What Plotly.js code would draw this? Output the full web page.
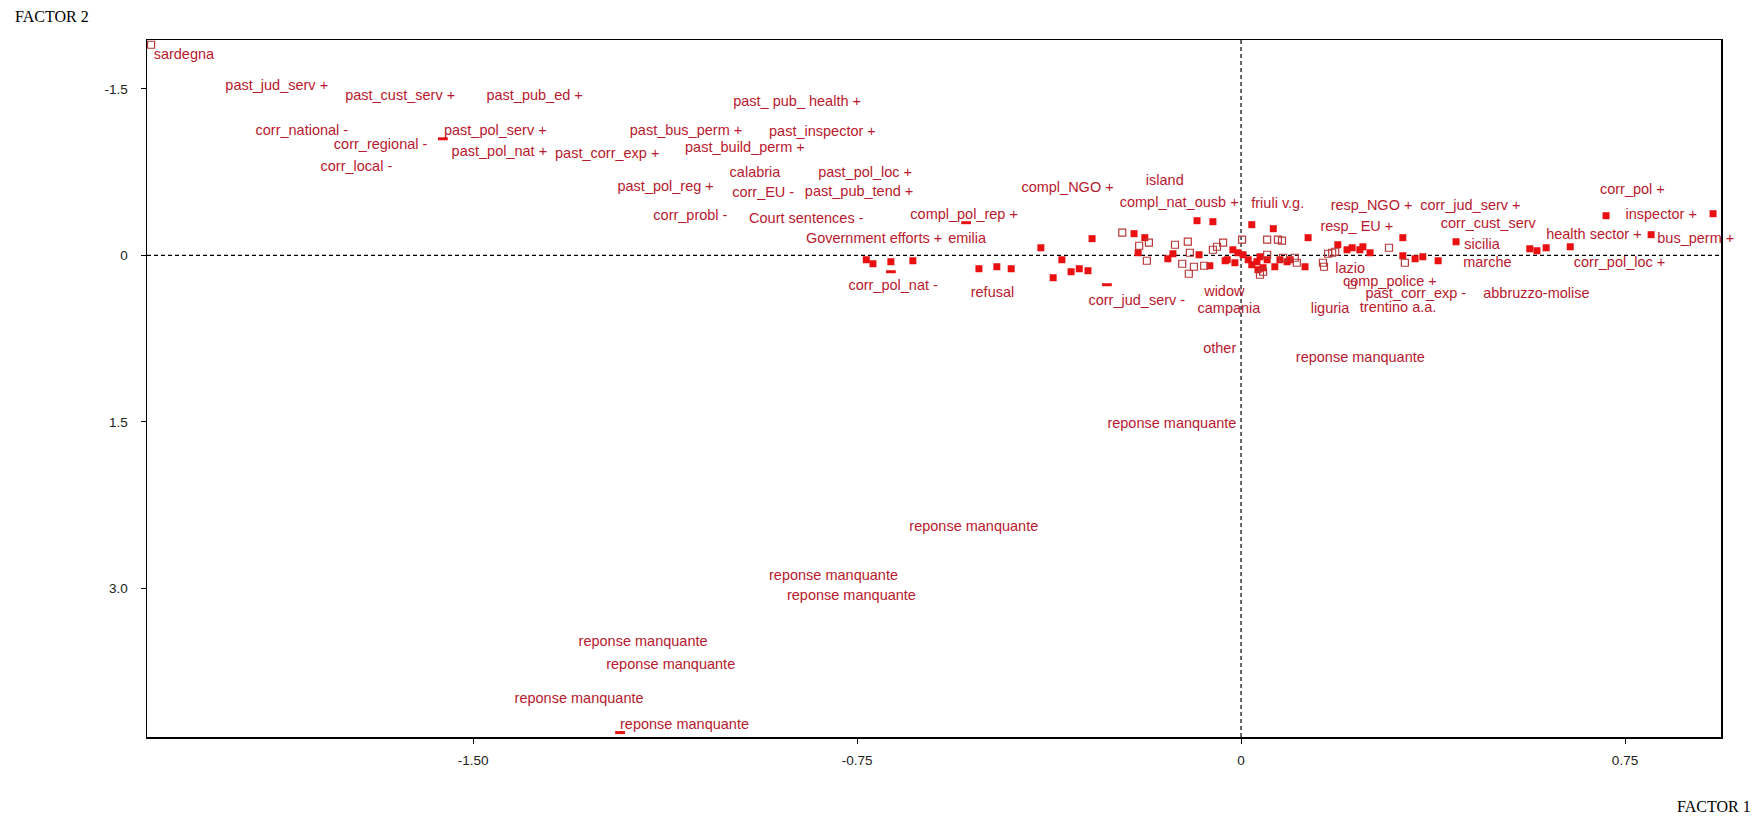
<!DOCTYPE html>
<html>
<head>
<meta charset="utf-8">
<script src="https://cdn.plot.ly/plotly-3.0.1.min.js"></script>
<style>
  html, body { margin: 0; padding: 0; background: #ffffff; }
  #chart { width: 1758px; height: 818px; }
</style>
</head>
<body>
<div id="chart"></div>
<script>
// ---- Label points (factor 1, factor 2) ----
const labelText = [
  "sardegna", "past_jud_serv +", "past_cust_serv +", "past_pub_ed +", "past_ pub_ health +",
  "corr_national -", "past_pol_serv +", "past_bus_perm +", "past_inspector +", "corr_regional -",
  "past_pol_nat +", "past_corr_exp +", "past_build_perm +", "corr_local -", "calabria",
  "past_pol_loc +", "past_pol_reg +", "corr_EU -", "past_pub_tend +", "compl_NGO +",
  "island", "compl_nat_ousb +", "friuli v.g.", "resp_NGO +", "corr_jud_serv +",
  "corr_pol +", "inspector +", "corr_probl -", "Court sentences -", "compl_pol_rep +",
  "corr_cust_serv", "resp_ EU +", "health sector +", "bus_perm +", "Government efforts +",
  "emilia", "sicilia", "marche", "corr_pol_loc +", "corr_pol_nat -",
  "refusal", "corr_jud_serv -", "widow", "campania", "lazio",
  "comp_police +", "past_corr_exp -", "abbruzzo-molise", "liguria", "trentino a.a.",
  "other", "reponse manquante", "reponse manquante", "reponse manquante", "reponse manquante",
  "reponse manquante", "reponse manquante", "reponse manquante", "reponse manquante", "reponse manquante"
];
const labelX = [
  -2.124, -1.984, -1.750, -1.474, -0.992,
  -1.925, -1.557, -1.194, -0.922, -1.772,
  -1.542, -1.340, -1.086, -1.798, -0.999,
  -0.826, -1.218, -0.994, -0.852, -0.429,
  -0.186, -0.237, 0.020, 0.175, 0.350,
  0.701, 0.751, -1.148, -0.961, -0.646,
  0.390, 0.155, 0.596, 0.813, -0.850,
  -0.572, 0.436, 0.434, 0.650, -0.767,
  -0.528, -0.298, -0.072, -0.085, 0.184,
  0.199, 0.243, 0.473, 0.136, 0.232,
  -0.074, 0.107, -0.261, -0.648, -0.922,
  -0.887, -1.294, -1.240, -1.419, -1.213
];
const labelY = [
  -1.798, -1.525, -1.435, -1.435, -1.374,
  -1.121, -1.121, -1.121, -1.111, -0.990,
  -0.929, -0.909, -0.960, -0.788, -0.738,
  -0.738, -0.616, -0.556, -0.566, -0.606,
  -0.667, -0.465, -0.455, -0.445, -0.445,
  -0.586, -0.364, -0.354, -0.323, -0.364,
  -0.283, -0.253, -0.182, -0.142, -0.142,
  -0.142, -0.091, 0.071, 0.071, 0.283,
  0.343, 0.414, 0.333, 0.485, 0.125,
  0.240, 0.353, 0.353, 0.485, 0.475,
  0.848, 0.929, 1.525, 2.454, 2.889,
  3.071, 3.485, 3.697, 4.000, 4.232
];

// ---- Unlabelled filled points ----
const filledX = [
  -0.732, -0.719, -0.684, -0.641, -0.512, -0.477, -0.449, -0.391, -0.350, -0.367,
  -0.332, -0.316, -0.299, -0.291, -0.209, -0.188, -0.201, -0.133, -0.143, -0.086,
  -0.055, -0.082, -0.061, 0.021, 0.063, 0.131, -0.031,
  -0.027, -0.016, -0.006, -0.012, 0.004, 0.014, 0.021, 0.031, 0.037, 0.043,
  0.033, 0.051, 0.066, 0.076, 0.090, 0.096, 0.125,
  0.189, 0.207, 0.217, 0.232, 0.238, 0.252, 0.316, 0.316, 0.340, 0.355,
  0.385, 0.420, 0.564, 0.578, 0.596, 0.643, 0.713, 0.801, 0.922
];
const filledY = [
  0.040, 0.076, 0.058, 0.049, 0.121, 0.103, 0.121, -0.068, 0.040, 0.202,
  0.148, 0.121, 0.139, -0.150, -0.195, -0.159, -0.023, -0.014, 0.031, -0.312,
  -0.303, -0.005, 0.094, -0.276, -0.240, -0.159, 0.049,
  0.040, -0.050, -0.023, 0.067, -0.005, 0.040, 0.085, 0.058, 0.013, 0.112,
  0.130, 0.040, 0.103, 0.040, 0.058, 0.040, 0.103,
  -0.095, -0.050, -0.068, -0.050, -0.077, -0.023, -0.159, 0.004, 0.031, 0.013,
  0.049, -0.122, -0.059, -0.041, -0.068, -0.077, -0.357, -0.186, -0.375
];

// ---- Unlabelled hollow points ----
const hollowX = [
  -0.232, -0.199, -0.180, -0.184, -0.129, -0.104, -0.100, -0.115, -0.092, -0.102,
  -0.072, -0.047, -0.035, 0.002, 0.051, 0.072, 0.080, 0.051, 0.037, 0.043,
  0.082, 0.105, 0.109, 0.160, 0.170, 0.162, 0.178, 0.184, 0.217, 0.289,
  0.320, -0.055, -2.129
];
const hollowY = [
  -0.204, -0.086, -0.114, 0.049, -0.095, -0.123, -0.023, 0.076, 0.103, 0.166,
  0.094, -0.077, -0.114, -0.141, -0.141, -0.141, -0.132, -0.005, 0.175, 0.148,
  0.022, 0.022, 0.067, 0.067, -0.014, 0.103, -0.023, -0.032, 0.265, -0.068,
  0.067, -0.050, -1.897
];

// ---- Small flat marks ----
const dashX = [-1.559, -0.684, -0.537, -0.262, -1.213];
const dashY = [-1.050, 0.148, -0.294, 0.265, 4.300];

// ---- Axis ticks ----
const xTickVals = [-1.5, -0.75, 0, 0.75];
const xTickText = ["-1.50", "-0.75", "0", "0.75"];
const yTickVals = [-1.5, 0, 1.5, 3.0];
const yTickText = ["-1.5", "0", "1.5", "3.0"];

const labelColor = "#b8192e";
const fillColor = "#e81010";
const hollowColor = "#b83a3a";

const traces = [
  {
    x: filledX, y: filledY, mode: "markers", type: "scatter",
    marker: { symbol: "square", size: 7, color: fillColor, line: { width: 0 } },
    hoverinfo: "skip", showlegend: false
  },
  {
    x: hollowX, y: hollowY, mode: "markers", type: "scatter",
    marker: { symbol: "square-open", size: 7, color: hollowColor, line: { width: 1.2 } },
    hoverinfo: "skip", showlegend: false
  },
  {
    x: dashX, y: dashY, mode: "markers", type: "scatter",
    marker: { symbol: "line-ew-open", size: 7, color: fillColor, line: { width: 3, color: fillColor } },
    hoverinfo: "skip", showlegend: false
  },
  {
    x: labelX, y: labelY, text: labelText, mode: "text", type: "scatter",
    textposition: "middle right",
    textfont: { family: "Arial, 'Liberation Sans', sans-serif", size: 14.5, color: labelColor },
    hoverinfo: "skip", showlegend: false, cliponaxis: false
  }
];

const layout = {
  width: 1758, height: 818,
  margin: { l: 147, r: 37, t: 40, b: 81, pad: 0 },
  paper_bgcolor: "#ffffff", plot_bgcolor: "#ffffff",
  showlegend: false,
  xaxis: {
    range: [-2.137, 0.9375],
    tickvals: xTickVals, ticktext: xTickText,
    ticks: "outside", ticklen: 5, tickcolor: "#000", tickwidth: 1,
    showgrid: false, zeroline: false,
    showline: true, mirror: true, linecolor: "#000", linewidth: 1.5,
    ticklabelstandoff: 5,
    tickfont: { family: "Arial, 'Liberation Sans', sans-serif", size: 13.5, color: "#222" }
  },
  yaxis: {
    range: [4.34, -1.94],
    tickvals: yTickVals, ticktext: yTickText,
    ticks: "outside", ticklen: 5, tickcolor: "#000", tickwidth: 1,
    showgrid: false, zeroline: false,
    showline: true, mirror: true, linecolor: "#000", linewidth: 1.5,
    ticklabelstandoff: 10,
    tickfont: { family: "Arial, 'Liberation Sans', sans-serif", size: 13.5, color: "#222" }
  },
  shapes: [
    { type: "line", xref: "x", yref: "paper", x0: 0, x1: 0, y0: 0, y1: 1,
      line: { color: "#000", width: 1.2, dash: "4px,3px" }, layer: "below" },
    { type: "line", xref: "paper", yref: "y", x0: 0, x1: 1, y0: 0, y1: 0,
      line: { color: "#000", width: 1.2, dash: "4px,3px" }, layer: "below" }
  ],
  annotations: [
    { text: "FACTOR 2", xref: "paper", yref: "paper", x: -0.0851, y: 1.0344,
      xanchor: "left", yanchor: "middle", showarrow: false,
      font: { family: "'Liberation Serif', 'Times New Roman', serif", size: 16, color: "#000" } },
    { text: "FACTOR 1", xref: "paper", yref: "paper", x: 1.0203, y: -0.099,
      xanchor: "right", yanchor: "middle", showarrow: false,
      font: { family: "'Liberation Serif', 'Times New Roman', serif", size: 16, color: "#000" } }
  ]
};

Plotly.newPlot("chart", traces, layout, { displayModeBar: false, staticPlot: true });
</script>
</body>
</html>
